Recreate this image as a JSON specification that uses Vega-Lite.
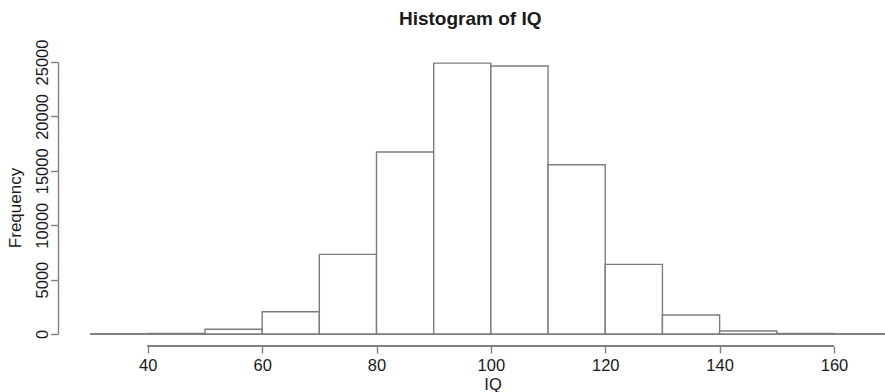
{
  "$schema": "https://vega.github.io/schema/vega-lite/v6.json",
  "autosize": {"type": "none"},
  "padding": {"left": 58, "top": 62, "right": 0, "bottom": 58},
  "width": 827,
  "height": 272,
  "background": "white",
  "title": {
    "text": "Histogram of IQ",
    "fontSize": 19,
    "fontWeight": "bold",
    "color": "#1a1a1a",
    "anchor": "middle",
    "frame": "group",
    "baseline": "alphabetic",
    "offset": -5,
    "dx": -1.3
  },
  "data": {
    "values": [
      {"lo": 40, "hi": 50, "count": 60},
      {"lo": 50, "hi": 60, "count": 430},
      {"lo": 60, "hi": 70, "count": 2050},
      {"lo": 70, "hi": 80, "count": 7320},
      {"lo": 80, "hi": 90, "count": 16730},
      {"lo": 90, "hi": 100, "count": 24900},
      {"lo": 100, "hi": 110, "count": 24630},
      {"lo": 110, "hi": 120, "count": 15550},
      {"lo": 120, "hi": 130, "count": 6400},
      {"lo": 130, "hi": 140, "count": 1740},
      {"lo": 140, "hi": 150, "count": 280},
      {"lo": 150, "hi": 160, "count": 50}
    ]
  },
  "layer": [
    {
      "mark": {"type": "rule", "color": "#808080", "strokeWidth": 1.4},
      "encoding": {
        "x": {"datum": 30, "type": "quantitative"},
        "x2": {"datum": 168.92},
        "y": {"datum": 0, "type": "quantitative"}
      }
    },
    {
      "mark": {"type": "rect", "fill": "white", "stroke": "#7c7c7c", "strokeWidth": 1.4},
      "encoding": {
        "x": {
          "field": "lo",
          "type": "quantitative",
          "scale": {"domain": [24.3, 168.92], "nice": false, "zero": false},
          "axis": {
            "title": "IQ",
            "values": [40, 60, 80, 100, 120, 140, 160],
            "format": "d",
            "domain": false,
            "grid": false,
            "offset": 12,
            "tickSize": 7,
            "tickWidth": 1.4,
            "tickColor": "#808080",
            "labelFontSize": 16.5,
            "labelColor": "#1a1a1a",
            "labelBaseline": "alphabetic",
            "labelPadding": 17.5,
            "labelFlush": false,
            "titleFontSize": 16.5,
            "titleFontWeight": "normal",
            "titleColor": "#1a1a1a",
            "titleBaseline": "alphabetic",
            "titleX": 434.5,
            "titleY": 43.3
          }
        },
        "x2": {"field": "hi"},
        "y": {
          "field": "count",
          "type": "quantitative",
          "scale": {"domain": [0, 25000], "nice": false},
          "axis": {
            "title": "Frequency",
            "values": [0, 5000, 10000, 15000, 20000, 25000],
            "format": "d",
            "domain": true,
            "domainColor": "#808080",
            "domainWidth": 1.4,
            "grid": false,
            "tickSize": 7.5,
            "tickWidth": 1.4,
            "tickColor": "#808080",
            "labelAngle": -90,
            "labelAlign": "center",
            "labelBaseline": "alphabetic",
            "labelPadding": 3.5,
            "labelFontSize": 16.5,
            "labelColor": "#1a1a1a",
            "labelFlush": false,
            "labelOverlap": false,
            "titleFontSize": 17,
            "titleFontWeight": "normal",
            "titleColor": "#1a1a1a",
            "titleAngle": -90,
            "titleAlign": "center",
            "titleBaseline": "alphabetic",
            "titleX": -37.3,
            "titleY": 145.5
          }
        },
        "y2": {"datum": 0}
      }
    },
    {
      "mark": {"type": "rule", "color": "#808080", "strokeWidth": 1.4},
      "encoding": {
        "x": {"datum": 40, "type": "quantitative"},
        "x2": {"datum": 160},
        "y": {"datum": -1103, "type": "quantitative"}
      }
    }
  ],
  "config": {
    "font": "Liberation Sans",
    "view": {"stroke": null}
  }
}
